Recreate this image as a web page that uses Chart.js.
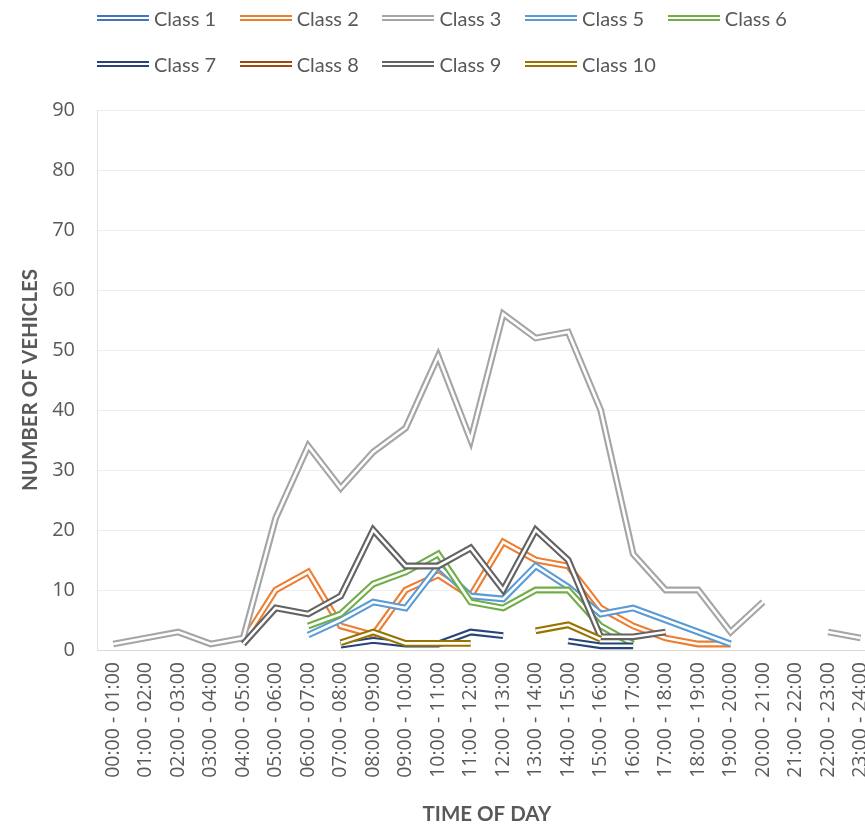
<!DOCTYPE html>
<html>
<head>
<meta charset="utf-8">
<script src="https://cdn.jsdelivr.net/npm/chart.js@4/dist/chart.umd.min.js"></script>
<style>
  html, body { margin: 0; padding: 0; overflow: hidden; background: #fff; }
  #wrap { position: relative; width: 865px; height: 832px; overflow: hidden; }
  #chart { position: absolute; left: 0; top: 0; }
  #legend { position: absolute; left: 0; top: 0; font-family: Lato, "Noto Sans", sans-serif; font-size: 20px; color: #595959; }
  .item { position: absolute; display: flex; align-items: center; height: 24px; white-space: nowrap; }
  .swatch { width: 52px; height: 2px; border-top: 2px solid; border-bottom: 2px solid; margin-right: 5px; }
</style>
</head>
<body>
<div id="wrap">
  <canvas id="chart" width="896" height="832"></canvas>
  <div id="legend"></div>
</div>
<script>
// categories (hour ranges)
const hours = [
  "00:00 - 01:00", "01:00 - 02:00", "02:00 - 03:00", "03:00 - 04:00",
  "04:00 - 05:00", "05:00 - 06:00", "06:00 - 07:00", "07:00 - 08:00",
  "08:00 - 09:00", "09:00 - 10:00", "10:00 - 11:00", "11:00 - 12:00",
  "12:00 - 13:00", "13:00 - 14:00", "14:00 - 15:00", "15:00 - 16:00",
  "16:00 - 17:00", "17:00 - 18:00", "18:00 - 19:00", "19:00 - 20:00",
  "20:00 - 21:00", "21:00 - 22:00", "22:00 - 23:00", "23:00 - 24:00"
];

// vehicles per class and hour (null = no count)
const class1  = [null, null, null, null, null, null, null, null, null, null, null, null, null, null, null, null, null, null, null, null, null, null, null, null];
const class2  = [null, null, null, null, 1.5, 10, 13, 4, 2.5, 10, 12.5, 9, 18, 15, 14, 7, 4, 2, 1, 1, null, null, null, null];
const class3  = [1, 2, 3, 1, 2, 22, 34, 27, 33, 37, 49, 35, 56, 52, 53, 40, 16, 10, 10, 3, 8, null, 3, 2];
const class5  = [null, null, null, null, null, null, 2.5, 5, 8, 7, 14, 9, 8.5, 14, 10.5, 6, 7, 5, 3, 1, null, null, null, null];
const class6  = [null, null, null, null, null, null, 4, 6, 11, 13, 16, 8, 7, 10, 10, 4, 1, null, null, null, null, null, null, null];
const class7  = [null, null, null, null, null, null, null, 0.8, 1.6, 1, 1, 3, 2.4, null, 1.5, 0.7, 0.7, null, null, null, null, null, null, null];
const class8  = [null, null, null, null, null, null, null, null, null, null, null, null, null, null, null, null, null, null, null, null, null, null, null, null];
const class9  = [null, null, null, null, 1, 7, 6, 9, 20, 14, 14, 17, 10, 20, 15, 2.2, 2.2, 3, null, null, null, null, null, null];
const class10 = [null, null, null, null, null, null, null, 1.2, 3, 1.1, 1.1, 1.1, null, 3.2, 4.2, 1.8, null, null, null, null, null, null, null, null];

const seriesNames = ["Class 1", "Class 2", "Class 3", "Class 5", "Class 6", "Class 7", "Class 8", "Class 9", "Class 10"];
const seriesData = [class1, class2, class3, class5, class6, class7, class8, class9, class10];
const seriesColors = ["#4472C4", "#ED7D31", "#A5A5A5", "#5B9BD5", "#70AD47", "#264478", "#9E480E", "#636363", "#997300"];

const textColor = "#595959";

// white core stroked right after each dataset -> excel style double line
const doubleLine = {
  id: 'doubleLine',
  afterDatasetDraw(chart, args) {
    const ctx = chart.ctx;
    const pts = args.meta.data;
    ctx.save();
    ctx.strokeStyle = '#fff';
    ctx.lineWidth = 2.6;
    ctx.lineJoin = 'miter';
    ctx.beginPath();
    let pen = false;
    pts.forEach((p) => {
      if (p.skip) { pen = false; return; }
      if (pen) ctx.lineTo(p.x, p.y); else ctx.moveTo(p.x, p.y);
      pen = true;
    });
    ctx.stroke();
    ctx.restore();
  }
};

const datasets = seriesNames.map((name, i) => ({
  label: name,
  data: seriesData[i],
  borderColor: seriesColors[i],
  backgroundColor: seriesColors[i],
  borderWidth: 6.8,
  borderJoinStyle: 'miter',
  pointRadius: 0,
  spanGaps: false,
  order: seriesNames.length - i
}));

const ctx = document.getElementById('chart').getContext('2d');
new Chart(ctx, {
  type: 'line',
  data: { labels: hours, datasets: datasets },
  plugins: [doubleLine],
  options: {
    responsive: false,
    animation: false,
    layout: { padding: { top: 110, left: 0, right: 0, bottom: 0 } },
    plugins: {
      legend: { display: false },
      tooltip: { enabled: false }
    },
    scales: {
      x: {
        offset: true,
        grid: { display: false, drawTicks: false },
        border: { display: true, color: '#D9D9D9', width: 1 },
        ticks: {
          autoSkip: false,
          minRotation: 90,
          maxRotation: 90,
          padding: 12,
          color: textColor,
          font: { family: '"Open Sans", sans-serif', size: 19.5 }
        },
        title: {
          display: true,
          text: 'TIME OF DAY',
          color: textColor,
          font: { family: 'Lato, sans-serif', size: 20.5, weight: 'bold' },
          padding: { top: 0, bottom: 5 }
        },
        afterFit(scale) { scale.height = 182; }
      },
      y: {
        min: 0,
        max: 90,
        grid: { color: '#EDEDED', drawTicks: false },
        border: { display: true, color: '#E3E3E3', width: 1 },
        ticks: {
          stepSize: 10,
          padding: 22,
          color: textColor,
          font: { family: '"Open Sans", sans-serif', size: 20 }
        },
        title: {
          display: true,
          text: 'NUMBER OF VEHICLES',
          color: textColor,
          font: { family: 'Lato, sans-serif', size: 20.5, weight: 'bold' },
          padding: { top: 18, bottom: 0 }
        },
        afterFit(scale) { scale.width = 97; }
      }
    }
  }
});

// legend: two rows, fixed column width like the excel one
const legend = document.getElementById('legend');
seriesNames.forEach((name, i) => {
  const row = i < 5 ? 0 : 1;
  const col = i < 5 ? i : i - 5;
  const item = document.createElement('div');
  item.className = 'item';
  item.style.left = (97 + col * 142.7) + 'px';
  item.style.top = (6 + row * 46) + 'px';
  const sw = document.createElement('span');
  sw.className = 'swatch';
  sw.style.borderColor = seriesColors[i];
  item.appendChild(sw);
  item.appendChild(document.createTextNode(name));
  legend.appendChild(item);
});
</script>
</body>
</html>
